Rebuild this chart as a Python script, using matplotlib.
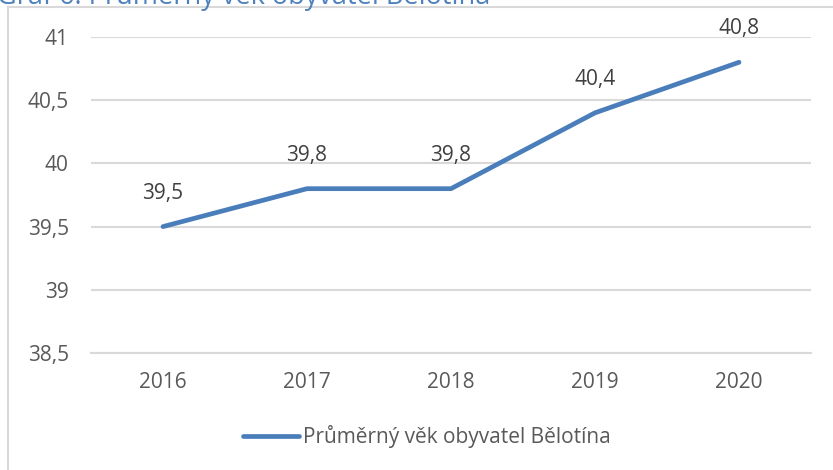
import matplotlib
matplotlib.use("Agg")
import matplotlib.pyplot as plt
from matplotlib.lines import Line2D

years = ["2016", "2017", "2018", "2019", "2020"]
values = [39.5, 39.8, 39.8, 40.4, 40.8]
value_labels = ["39,5", "39,8", "39,8", "40,4", "40,8"]
yticks = [38.5, 39, 39.5, 40, 40.5, 41]
ytick_labels = ["38,5", "39", "39,5", "40", "40,5", "41"]
series_name = "Průměrný věk obyvatel Bělotína"
title = "Graf 6: Průměrný věk obyvatel Bělotína"

plt.rcParams['font.family'] = ['Open Sans', 'DejaVu Sans']
W, H = 833, 470
fig = plt.figure(figsize=(W / 100, H / 100), dpi=100)
fig.patch.set_facecolor('white')

ax = fig.add_axes([91 / W, 1 - 353 / H, 720 / W, (353 - 37) / H])
x = list(range(len(years)))
line_color = '#4A7EBB'
text_color = '#595959'
grid_color = '#D9D9D9'
fs = 15

ax.plot(x, values, color=line_color, lw=3.4, solid_capstyle='round', solid_joinstyle='round',
        label=series_name, zorder=3)
for xi, v, lab in zip(x, values, value_labels):
    ax.annotate(lab, (xi, v), xytext=(0, 24), textcoords='offset points',
                ha='center', va='center', fontsize=fs, color='#404040')

ax.set_xlim(-0.5, len(years) - 0.5)
ax.set_ylim(38.5, 41)
ax.set_yticks(yticks)
ax.set_yticklabels(ytick_labels)
ax.set_xticks(x)
ax.set_xticklabels(years)
ax.tick_params(axis='both', length=0, labelsize=fs, labelcolor=text_color)
ax.tick_params(axis='y', pad=16)
ax.tick_params(axis='x', pad=14)
ax.grid(axis='y', color=grid_color, lw=1.5)
ax.set_axisbelow(True)
for s in ['top', 'right', 'left']:
    ax.spines[s].set_visible(False)
ax.spines['bottom'].set_color(grid_color)
ax.spines['bottom'].set_linewidth(1.5)

leg = fig.legend(loc='center', bbox_to_anchor=(427 / W, 1 - 437 / H), frameon=False,
                 fontsize=fs, handlelength=2.7, handletextpad=0.2, labelcolor=text_color)

# chart border (left and top only visible)
fig.add_artist(Line2D([8 / W, 8 / W], [0, 1 - 7 / H], color=grid_color, lw=1.5))
fig.add_artist(Line2D([8 / W, 1], [1 - 7 / H, 1 - 7 / H], color=grid_color, lw=1.5))

# clipped title
fig.text(-3 / W, 1 - 4 / H, title, fontsize=19.5, color='#4F81BD', ha='left', va='baseline')

fig.savefig('out.png', dpi=100, facecolor='white')
